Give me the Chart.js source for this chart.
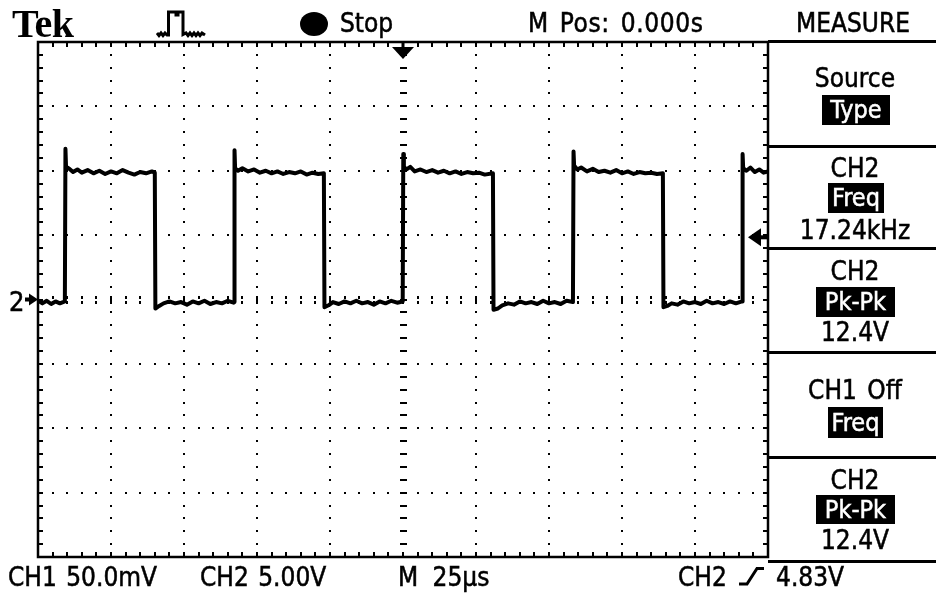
<!DOCTYPE html>
<html><head><meta charset="utf-8">
<script src="https://cdn.jsdelivr.net/npm/chart.js@4.4.1/dist/chart.umd.min.js"></script>
<style>
html,body{margin:0;padding:0;background:#fff;}
#wrap{position:relative;width:936px;height:593px;overflow:hidden;background:#fff;}
#c{position:absolute;left:0;top:0;}
.t{position:absolute;font-family:"DejaVu Sans Condensed","DejaVu Sans",sans-serif;font-stretch:condensed;font-size:26px;line-height:26px;color:#000;white-space:nowrap;-webkit-text-stroke:0.5px #000;}
.m{left:771px;width:168px;text-align:center;}
.inv{position:absolute;background:#000;color:#fff;font-family:"DejaVu Sans Condensed","DejaVu Sans",sans-serif;font-stretch:condensed;font-size:25px;text-align:center;white-space:nowrap;-webkit-text-stroke:0.5px #fff;}
.sep{position:absolute;left:768px;width:168px;height:3px;background:#000;}
#tek{position:absolute;left:12px;top:4px;font-family:"Liberation Serif","DejaVu Serif",serif;font-weight:bold;font-size:40px;line-height:40px;color:#000;letter-spacing:-0.5px;}
#dot{position:absolute;left:300px;top:12px;width:28px;height:24px;border-radius:50%;background:#000;}
svg{position:absolute;overflow:visible;}
</style>
</head><body>
<div id="wrap">
<canvas id="c" width="936" height="593"></canvas>

<div id="tek">Tek</div>
<svg style="left:0;top:0" width="936" height="593">
  <polyline points="157,33 159,35.5 161,33 163,35.5 165,33 167,35 168.5,35 168.5,12 176,12 176,15 178,15 178,12 183,12 183,34.5 186,33 188,35.5 190,33 192,35.5 194,33 196,35.5 198,33 200,35.5 202,33 205,35" fill="none" stroke="#000" stroke-width="3"/>
  <polyline points="739,584 747,584 757,568.5 764,568.5" fill="none" stroke="#000" stroke-width="3"/>
</svg>
<div id="dot"></div>
<div class="t" style="left:340px;top:10px">Stop</div>
<div class="t" style="left:528px;top:10px;word-spacing:3px;letter-spacing:0.6px">M Pos: 0.000s</div>
<div class="t" style="left:796px;top:10px">MEASURE</div>

<div class="sep" style="top:40px"></div>
<div class="sep" style="top:145px"></div>
<div class="sep" style="top:247px"></div>
<div class="sep" style="top:351px"></div>
<div class="sep" style="top:456px"></div>
<div class="sep" style="top:560px"></div>

<div class="t m" style="top:65px">Source</div>
<div class="inv" style="left:822px;top:95px;width:68px;height:30px;line-height:30px">Type</div>

<div class="t m" style="top:155px">CH2</div>
<div class="inv" style="left:828px;top:183px;width:56px;height:30px;line-height:30px">Freq</div>
<div class="t m" style="top:217px">17.24kHz</div>

<div class="t m" style="top:258px">CH2</div>
<div class="inv" style="left:816px;top:287px;width:79px;height:30px;line-height:30px">Pk-Pk</div>
<div class="t m" style="top:319px">12.4V</div>

<div class="t m" style="top:377px;word-spacing:3px">CH1 Off</div>
<div class="inv" style="left:828px;top:407px;width:55px;height:31px;line-height:31px">Freq</div>

<div class="t m" style="top:467px">CH2</div>
<div class="inv" style="left:816px;top:495px;width:79px;height:29px;line-height:29px">Pk-Pk</div>
<div class="t m" style="top:527px">12.4V</div>

<div class="t" style="left:9px;top:289px;font-size:27px">2</div>

<div class="t" style="left:8px;top:564px;word-spacing:2px">CH1 50.0mV</div>
<div class="t" style="left:200px;top:564px;word-spacing:2px">CH2 5.00V</div>
<div class="t" style="left:398px;top:564px;word-spacing:7px">M 25μs</div>
<div class="t" style="left:678px;top:564px">CH2</div>
<div class="t" style="left:776px;top:564px">4.83V</div>
</div>

<script>
// ---- data (time in µs, CH2 volts) ----
const xDivs = [-125,-100,-75,-50,-25,0,25,50,75,100,125];   // 25 µs/div
const yDivs = [-20,-15,-10,-5,0,5,10,15,20];                 // 5.00 V/div
const groundLevel = 0;
const triggerTime = 0;
const triggerLevel = 4.83;

const traceTime = [
 -125,-123.5,-122,-120.5,-119,-117.5,-115.8,
 -115.6,-115.4,
 -114.5,-113,-111.5,-110,-108,-106,-104,-102,-100,-98,-96,-94,-92,-90,-88,-86,-85,
 -84.8,-83.5,-82,-80,-78,-76,-74,-72,-70,-68,-66,-64,-62,-60,-58,
 -57.8,-57.7,-57.5,
 -56.5,-55,-53,-51,-49,-47,-45,-43,-41,-39,-37,-35,-33,-31,-29,-27.1,
 -26.9,-25.5,-24,-22,-20,-18,-16,-14,-12,-10,-8,-6,-4,-2,-0.1,
 0.1,0.3,
 1.2,2.5,4,6,8,10,12,14,16,18,20,22,24,26,28,30.8,
 31.0,32.5,34,36,38,40,42,44,46,48,50,52,54,56,58.2,
 58.4,58.6,
 59.7,61,63,65,67,69,71,73,75,77,79,81,83,85,87,89.0,
 89.2,90.5,92,94,96,98,100,102,104,106,108,110,112,114,116.1,
 116.3,116.5,
 117.6,119,120.5,122,123.5,125
];
const traceVolts = [
 -0.1,-0.3,-0.1,-0.35,-0.15,-0.3,-0.15,
 11.7,10.3,
 10.2,9.9,10.1,9.85,10.05,9.8,10.0,9.75,9.95,9.8,10.05,9.85,9.7,9.9,9.8,9.95,9.85,
 -0.7,-0.5,-0.3,-0.15,-0.3,-0.2,-0.4,-0.15,-0.3,-0.1,-0.35,-0.2,-0.3,-0.1,-0.25,
 -0.2,11.6,10.2,
 10.0,10.2,9.95,10.1,9.85,10.0,9.8,9.95,9.75,9.9,9.8,9.95,9.7,9.85,9.75,9.8,
 -0.6,-0.45,-0.2,-0.35,-0.15,-0.3,-0.1,-0.3,-0.2,-0.4,-0.15,-0.3,-0.1,-0.25,-0.15,
 11.3,10.3,
 10.1,10.3,9.95,10.1,9.9,10.05,9.85,10.0,9.8,9.95,9.75,9.9,9.8,9.85,9.7,9.8,
 -0.8,-0.7,-0.45,-0.3,-0.4,-0.15,-0.3,-0.2,-0.35,-0.1,-0.3,-0.2,-0.35,-0.1,-0.2,
 11.5,10.4,
 10.1,10.25,9.95,10.15,9.9,10.0,9.85,10.05,9.8,9.95,9.75,9.9,9.8,9.85,9.75,9.8,
 -0.6,-0.5,-0.3,-0.4,-0.15,-0.3,-0.2,-0.35,-0.1,-0.3,-0.2,-0.35,-0.15,-0.3,-0.15,
 11.3,10.2,
 10.0,10.25,9.9,10.1,9.85,9.95
];

const SUB = 5;
function minorVals(divs){
  const out = [];
  for (let i = 0; i < divs.length - 1; i++)
    for (let k = 0; k < SUB; k++) out.push(divs[i] + (divs[i+1] - divs[i]) * k / SUB);
  out.push(divs[divs.length - 1]);
  return out;
}

const graticule = {
  id: 'graticule',
  beforeDatasetsDraw(chart) {
    const {ctx, chartArea: a, scales: {x, y}} = chart;
    const mx = minorVals(xDivs), my = minorVals(yDivs);
    const cx = Math.round(x.getPixelForValue(0)), cy = Math.round(y.getPixelForValue(0));
    ctx.save();
    ctx.fillStyle = '#000';
    yDivs.slice(1, -1).forEach(v => {
      if (v === 0) return;
      const py = Math.round(y.getPixelForValue(v));
      mx.slice(1, -1).forEach(u => {
        const px = Math.round(x.getPixelForValue(u));
        ctx.fillRect(px - 1, py - 1, 2, 2);
      });
    });
    xDivs.slice(1, -1).forEach(u => {
      if (u === 0) return;
      const px = Math.round(x.getPixelForValue(u));
      my.slice(1, -1).forEach(v => {
        const py = Math.round(y.getPixelForValue(v));
        ctx.fillRect(px - 1, py - 1, 2, 2);
      });
    });
    mx.slice(1, -1).forEach(u => {
      const px = Math.round(x.getPixelForValue(u));
      ctx.fillRect(px - 1, cy - 4, 2, 3);
      ctx.fillRect(px - 1, cy + 1, 2, 3);
    });
    my.slice(1, -1).forEach(v => {
      const py = Math.round(y.getPixelForValue(v));
      ctx.fillRect(cx - 3, py - 1, 7, 2);
    });
    ctx.lineWidth = 2.5;
    ctx.strokeStyle = '#000';
    ctx.strokeRect(a.left, a.top, a.right - a.left, a.bottom - a.top);
    mx.forEach(u => {
      const px = Math.round(x.getPixelForValue(u));
      ctx.fillRect(px - 1, a.top, 2, 5);
      ctx.fillRect(px - 1, a.bottom - 5, 2, 5);
    });
    my.forEach(v => {
      const py = Math.round(y.getPixelForValue(v));
      ctx.fillRect(a.left, py - 1, 5, 2);
      ctx.fillRect(a.right - 5, py - 1, 5, 2);
    });
    ctx.restore();
  },
  afterDatasetsDraw(chart) {
    const {ctx, chartArea: a, scales: {x, y}} = chart;
    ctx.save();
    ctx.fillStyle = '#000';
    const gy = y.getPixelForValue(groundLevel);
    ctx.fillRect(a.left - 13, gy - 2, 6, 4);
    ctx.beginPath();
    ctx.moveTo(a.left, gy); ctx.lineTo(a.left - 9, gy - 6); ctx.lineTo(a.left - 9, gy + 6); ctx.closePath(); ctx.fill();
    const tx = x.getPixelForValue(triggerTime);
    ctx.fillRect(tx - 1.5, a.top, 3, 7);
    ctx.beginPath();
    ctx.moveTo(tx - 11, a.top + 5); ctx.lineTo(tx + 11, a.top + 5); ctx.lineTo(tx, a.top + 17); ctx.closePath(); ctx.fill();
    const ty = y.getPixelForValue(triggerLevel);
    ctx.fillRect(a.right - 8, ty - 2, 8, 4);
    ctx.beginPath();
    ctx.moveTo(a.right - 20, ty); ctx.lineTo(a.right - 7, ty - 9); ctx.lineTo(a.right - 7, ty + 9); ctx.closePath(); ctx.fill();
    ctx.restore();
  }
};

const points = traceTime.map((t, i) => ({x: t, y: traceVolts[i]}));

new Chart(document.getElementById('c'), {
  type: 'line',
  data: { datasets: [{
    data: points,
    borderColor: '#000',
    borderWidth: 4,
    pointRadius: 0,
    tension: 0,
    fill: false,
    borderJoinStyle: 'round'
  }]},
  options: {
    responsive: false,
    animation: false,
    events: [],
    layout: { padding: { left: 38, right: 168, top: 42, bottom: 36 } },
    plugins: { legend: { display: false }, tooltip: { enabled: false } },
    scales: {
      x: { type: 'linear', min: xDivs[0], max: xDivs[xDivs.length - 1], display: false },
      y: { type: 'linear', min: yDivs[0], max: yDivs[yDivs.length - 1], display: false }
    }
  },
  plugins: [graticule]
});
</script>
</body></html>
